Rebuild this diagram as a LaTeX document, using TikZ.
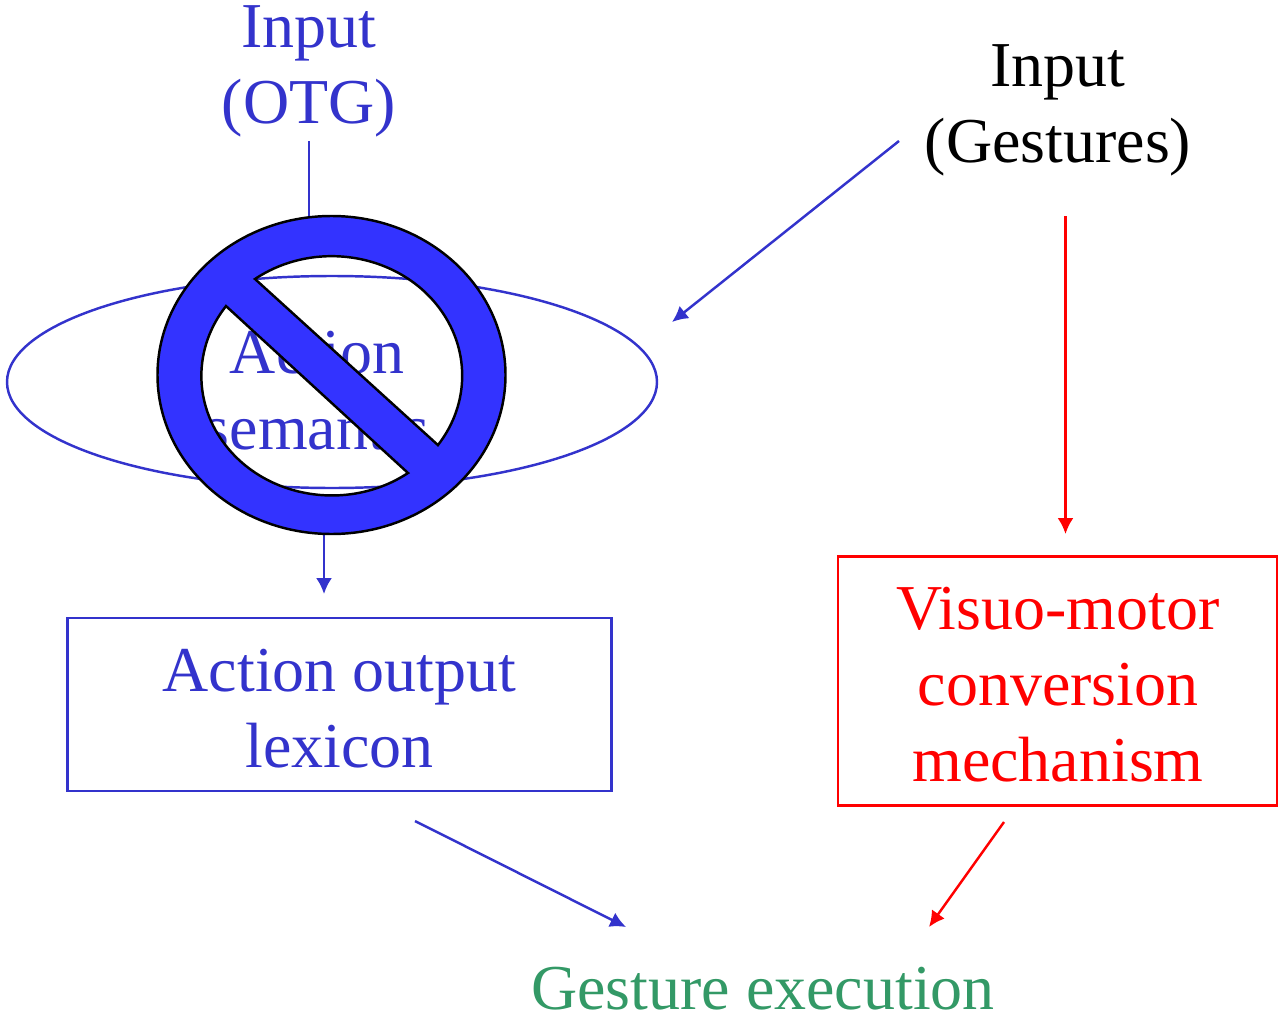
\documentclass[tikz,border=0pt]{standalone}
\usepackage{fontspec}
\setmainfont{Liberation Serif}
\usetikzlibrary{shapes.geometric}
\usetikzlibrary{arrows.meta}
\definecolor{BLUE}{HTML}{3333CC}
\definecolor{SIGN}{HTML}{3333FF}
\definecolor{RED}{HTML}{FF0000}
\definecolor{GREEN}{HTML}{339966}
\tikzset{
	every node/.style = {font=\fontsize{36.4}{43.2}\selectfont, align=center},
	link/.style = {line width=1.4pt, -{Latex[length=9pt,width=9pt]}}
}
\begin{document}
\begin{tikzpicture}[x=0.02cm, y=-0.02cm]
	\useasboundingbox (0,0) rectangle (1281,1017);
	% input
	\node[text=BLUE] (otg) at (309,71) {Input\\(OTG)};
	\node[text=black] (gestures) at (1058,110) {Input\\(Gestures)};
	% semantics
	\node[draw=BLUE, line width=1.4pt, ellipse, minimum width=650*0.02cm, minimum height=212*0.02cm, inner sep=0pt] (ellipse) at (332,382) {};
	\node[text=BLUE] (semantics) at (317,391) {Action\\semant\kern-0.2cm i\kern-0.36cm cs};
	% boxes
	\node[draw=BLUE, line width=1.4pt, minimum width=544*0.02cm, minimum height=173*0.02cm] (lexicon) at (339.5,704.5) {};
	\node[text=BLUE] (lexiconlabel) at (339.5,708.5) {Action output\\lexicon};
	\node[draw=RED, line width=1.4pt, minimum width=439*0.02cm, minimum height=249*0.02cm] (visuo) at (1057.5,681) {};
	\node[text=RED] (visuolabel) at (1058,684.5) {Visuo-motor\\conversion\\mechanism};
	\node[text=GREEN] (execution) at (763,988.5) {Gesture execution};
	% free ends
	\coordinate (a) at (309,141);
	\coordinate (b) at (309,218);
	\coordinate (c) at (899,141);
	\coordinate (d) at (672,322);
	\coordinate (e) at (1065.5,216);
	\coordinate (f) at (1065.5,534);
	\coordinate (g) at (324,534);
	\coordinate (h) at (324,594);
	\coordinate (i) at (415,821);
	\coordinate (j) at (626,927);
	\coordinate (k) at (1004,822);
	\coordinate (l) at (929,927);
	\draw[BLUE, line width=1.4pt] (a) -- (b);
	\draw[link, BLUE] (c) -- (d);
	\draw[link, RED] (e) -- (f);
	\draw[link, BLUE] (g) -- (h);
	\draw[link, BLUE] (i) -- (j);
	\draw[link, RED] (k) -- (l);
	% sign
	\draw[fill=SIGN, even odd rule, line width=1.4pt] (331.5,375) ellipse (174 and 159)
		(255,279) arc[start angle=234, end angle=395.5, x radius=130.5, y radius=119.5] -- cycle
		(408,473) arc[start angle=54.3, end angle=215.8, x radius=130.5, y radius=119.5] -- cycle;
\end{tikzpicture}
\end{document}
